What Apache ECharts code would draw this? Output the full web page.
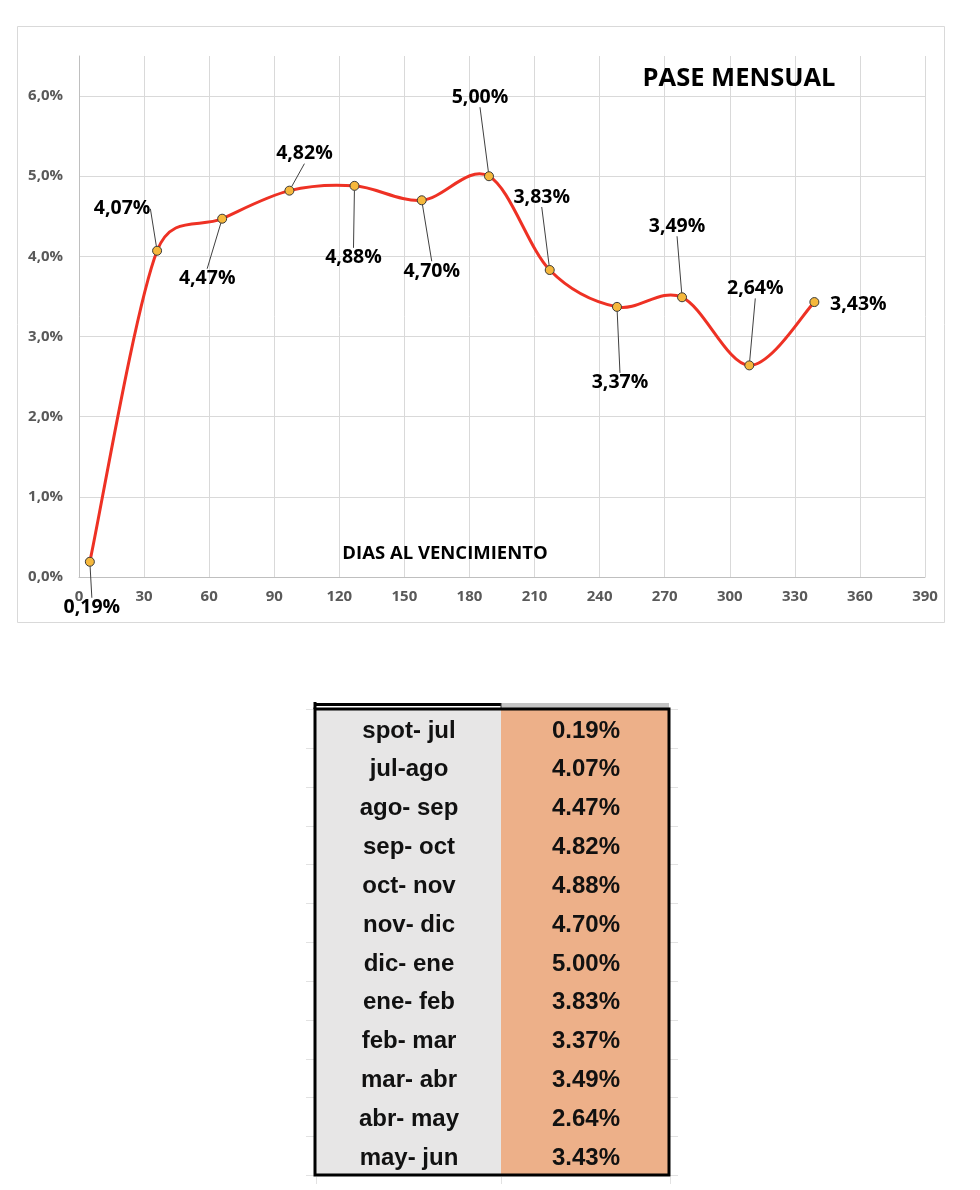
<!DOCTYPE html>
<html>
<head>
<meta charset="utf-8">
<script src="https://cdn.jsdelivr.net/npm/echarts@6/dist/echarts.min.js"></script>
<style>
html,body{margin:0;padding:0;background:#fff;}
#main{width:980px;height:1190px;}
</style>
</head>
<body>
<div id="main"></div>
<script>
// ---- data ----
const DAYS = [5, 36, 66, 97, 127, 158, 189, 217, 248, 278, 309, 339];
const PASE = [0.19, 4.07, 4.47, 4.82, 4.88, 4.70, 5.00, 3.83, 3.37, 3.49, 2.64, 3.43];
const TRAMOS = ['spot- jul', 'jul-ago', 'ago- sep', 'sep- oct', 'oct- nov', 'nov- dic',
                'dic- ene', 'ene- feb', 'feb- mar', 'mar- abr', 'abr- may', 'may- jun'];
const X_TICKS = [0, 30, 60, 90, 120, 150, 180, 210, 240, 270, 300, 330, 360, 390];
const Y_TICKS = [0, 1, 2, 3, 4, 5, 6];
const TITLE = 'PASE MENSUAL';
const X_NAME = 'DIAS AL VENCIMIENTO';

// ---- layout (label offsets from marker, px) ----
const LABEL_OFFSETS = [[2, 46], [-35, -42], [-15, 60], [15, -37], [-1, 72], [10, 71],
                       [-9, -79], [-8, -73], [3, 76], [-5, -71], [6, -77], [44, 2]];

const chart = echarts.init(document.getElementById('main'), null, {renderer: 'canvas'});

const fmtComma = (v, d) => v.toFixed(d).replace('.', ',');

// table graphics
const T_LEFT = 315, T_MID = 501, T_RIGHT = 669, T_TOP = 709, T_BOTTOM = 1175;
const rowH = (T_BOTTOM - T_TOP) / TRAMOS.length;
const tableEls = [];
tableEls.push({type: 'rect', shape: {x: T_LEFT, y: T_TOP, width: T_MID - T_LEFT, height: T_BOTTOM - T_TOP}, style: {fill: '#e7e6e6'}});
tableEls.push({type: 'rect', shape: {x: T_MID, y: T_TOP, width: T_RIGHT - T_MID, height: T_BOTTOM - T_TOP}, style: {fill: '#edb089'}});
tableEls.push({type: 'rect', shape: {x: T_MID, y: 703, width: T_RIGHT - T_MID, height: 6}, style: {fill: '#c4c4c4'}});
tableEls.push({type: 'line', shape: {x1: T_LEFT, y1: 704.5, x2: T_MID, y2: 704.5}, style: {stroke: '#000', lineWidth: 3}});
tableEls.push({type: 'line', shape: {x1: T_MID, y1: 703, x2: T_MID, y2: 709}, style: {stroke: '#333', lineWidth: 1}});
// faint excel gridlines outside the table
for (let i = 0; i <= TRAMOS.length; i++) {
  const y = Math.round(T_TOP + i * rowH) + 0.5;
  tableEls.push({type: 'line', shape: {x1: 306, y1: y, x2: T_LEFT, y2: y}, style: {stroke: '#e2e2e2', lineWidth: 1}});
  tableEls.push({type: 'line', shape: {x1: T_RIGHT, y1: y, x2: 678, y2: y}, style: {stroke: '#e2e2e2', lineWidth: 1}});
}
[T_LEFT + 1, T_MID, T_RIGHT + 1].forEach(x => {
  tableEls.push({type: 'line', shape: {x1: x + 0.5, y1: T_BOTTOM + 2, x2: x + 0.5, y2: 1184}, style: {stroke: '#e2e2e2', lineWidth: 1}});
});
TRAMOS.forEach((t, i) => {
  const cy = T_TOP + rowH * (i + 0.5) + 2.5;
  tableEls.push({type: 'text', x: (T_LEFT + T_MID) / 2 + 1, y: cy, z: 5,
    style: {text: t, fill: '#111', font: 'bold 24px "Liberation Sans", Arial, sans-serif', align: 'center', verticalAlign: 'middle'}});
  tableEls.push({type: 'text', x: 586, y: cy, z: 5,
    style: {text: PASE[i].toFixed(2) + '%', fill: '#111', font: 'bold 24px "Liberation Sans", Arial, sans-serif', align: 'center', verticalAlign: 'middle'}});
});
// table border
tableEls.push({type: 'rect', shape: {x: T_LEFT, y: T_TOP, width: T_RIGHT - T_LEFT, height: T_BOTTOM - T_TOP}, z: 6, style: {fill: 'none', stroke: '#000', lineWidth: 3}});
tableEls.push({type: 'line', shape: {x1: T_LEFT, y1: 702, x2: T_LEFT, y2: T_TOP}, z: 6, style: {stroke: '#000', lineWidth: 3}});

// Excel-like smoothed line (Catmull-Rom Bezier, control length clamped) through the axis scales
const CP_CLAMP = 0.55;
function ctrl(p, tx, ty, segLen) {
  const len = Math.hypot(tx, ty);
  const maxLen = segLen * CP_CLAMP;
  const k = len > maxLen && len > 0 ? maxLen / len : 1;
  return [p[0] + tx * k, p[1] + ty * k];
}
function renderSmoothLine(params, api) {
  if (params.dataIndex !== 0) return null;
  const pts = DAYS.map((d, i) => api.coord([d, PASE[i]]));
  const n = pts.length;
  const children = [];
  for (let i = 0; i < n - 1; i++) {
    const p0 = pts[Math.max(i - 1, 0)], p1 = pts[i], p2 = pts[i + 1], p3 = pts[Math.min(i + 2, n - 1)];
    const seg = Math.hypot(p2[0] - p1[0], p2[1] - p1[1]);
    const c1 = ctrl(p1, (p2[0] - p0[0]) / 6, (p2[1] - p0[1]) / 6, seg);
    const c2 = ctrl(p2, -(p3[0] - p1[0]) / 6, -(p3[1] - p1[1]) / 6, seg);
    children.push({
      type: 'bezierCurve',
      shape: {x1: p1[0], y1: p1[1], x2: p2[0], y2: p2[1], cpx1: c1[0], cpy1: c1[1], cpx2: c2[0], cpy2: c2[1]},
      style: {stroke: '#ee3124', lineWidth: 3, fill: 'none', lineCap: 'round'}
    });
  }
  return {type: 'group', children: children};
}

const option = {
  animation: false,
  backgroundColor: '#fff',
  grid: {left: 79, right: 55, top: 56, bottom: 613, containLabel: false},
  xAxis: {
    type: 'value', min: X_TICKS[0], max: X_TICKS[X_TICKS.length - 1], interval: 30,
    axisLine: {show: true, lineStyle: {color: '#bfbfbf', width: 1}},
    axisTick: {show: false},
    axisLabel: {color: '#595959', fontFamily: 'Open Sans', fontWeight: 'bold', fontSize: 15, margin: 12,
      formatter: v => X_TICKS.includes(v) ? String(v) : ''},
    splitLine: {show: true, lineStyle: {color: '#d9d9d9', width: 1}}
  },
  yAxis: {
    type: 'value', min: 0, max: 6.5, interval: 1,
    axisLine: {show: true, lineStyle: {color: '#bfbfbf', width: 1}},
    axisTick: {show: false},
    axisLabel: {color: '#595959', fontFamily: 'Open Sans', fontWeight: 'bold', fontSize: 15, margin: 16,
      formatter: v => Y_TICKS.includes(v) ? fmtComma(v, 1) + '%' : ''},
    splitLine: {show: true, lineStyle: {color: ['#d9d9d9', '#d9d9d9', '#d9d9d9', '#d9d9d9', '#d9d9d9', '#d9d9d9', '#d9d9d9', 'rgba(0,0,0,0)'], width: 1}}
  },
  graphic: [
    {type: 'rect', shape: {x: 17.5, y: 26.5, width: 927, height: 596}, style: {fill: 'none', stroke: '#d9d9d9', lineWidth: 1}, z: -1},
    {type: 'text', x: 739, y: 79, z: 10, style: {text: TITLE, fill: '#000', font: 'bold 25.5px "Open Sans", sans-serif', align: 'center', verticalAlign: 'middle'}},
    {type: 'text', x: 445, y: 554, z: 10, style: {text: X_NAME, fill: '#000', font: 'bold 18.5px "Open Sans", sans-serif', align: 'center', verticalAlign: 'middle'}}
  ].concat(tableEls),
  series: [{
    type: 'custom',
    renderItem: renderSmoothLine,
    data: DAYS.map((d, i) => [d, PASE[i]]),
    encode: {x: 0, y: 1},
    clip: false,
    silent: true,
    z: 2
  }, {
    type: 'line',
    data: DAYS.map((d, i) => {
      const item = {value: [d, PASE[i]]};
      if (i === DAYS.length - 1) item.labelLine = {show: false};
      return item;
    }),
    lineStyle: {opacity: 0, width: 0},
    symbol: 'circle',
    symbolSize: 9,
    itemStyle: {color: '#f6b83c', borderColor: '#3a3a3a', borderWidth: 1},
    label: {
      show: true, position: 'inside', color: '#000',
      fontFamily: 'Open Sans', fontWeight: 'bold', fontSize: 19.5,
      formatter: p => fmtComma(p.value[1], 2) + '%'
    },
    labelLayout: p => ({dx: LABEL_OFFSETS[p.dataIndex][0], dy: LABEL_OFFSETS[p.dataIndex][1]}),
    labelLine: {show: true, length2: 0, lineStyle: {color: '#404040', width: 1}},
    z: 3
  }]
};
chart.setOption(option);
</script>
</body>
</html>
